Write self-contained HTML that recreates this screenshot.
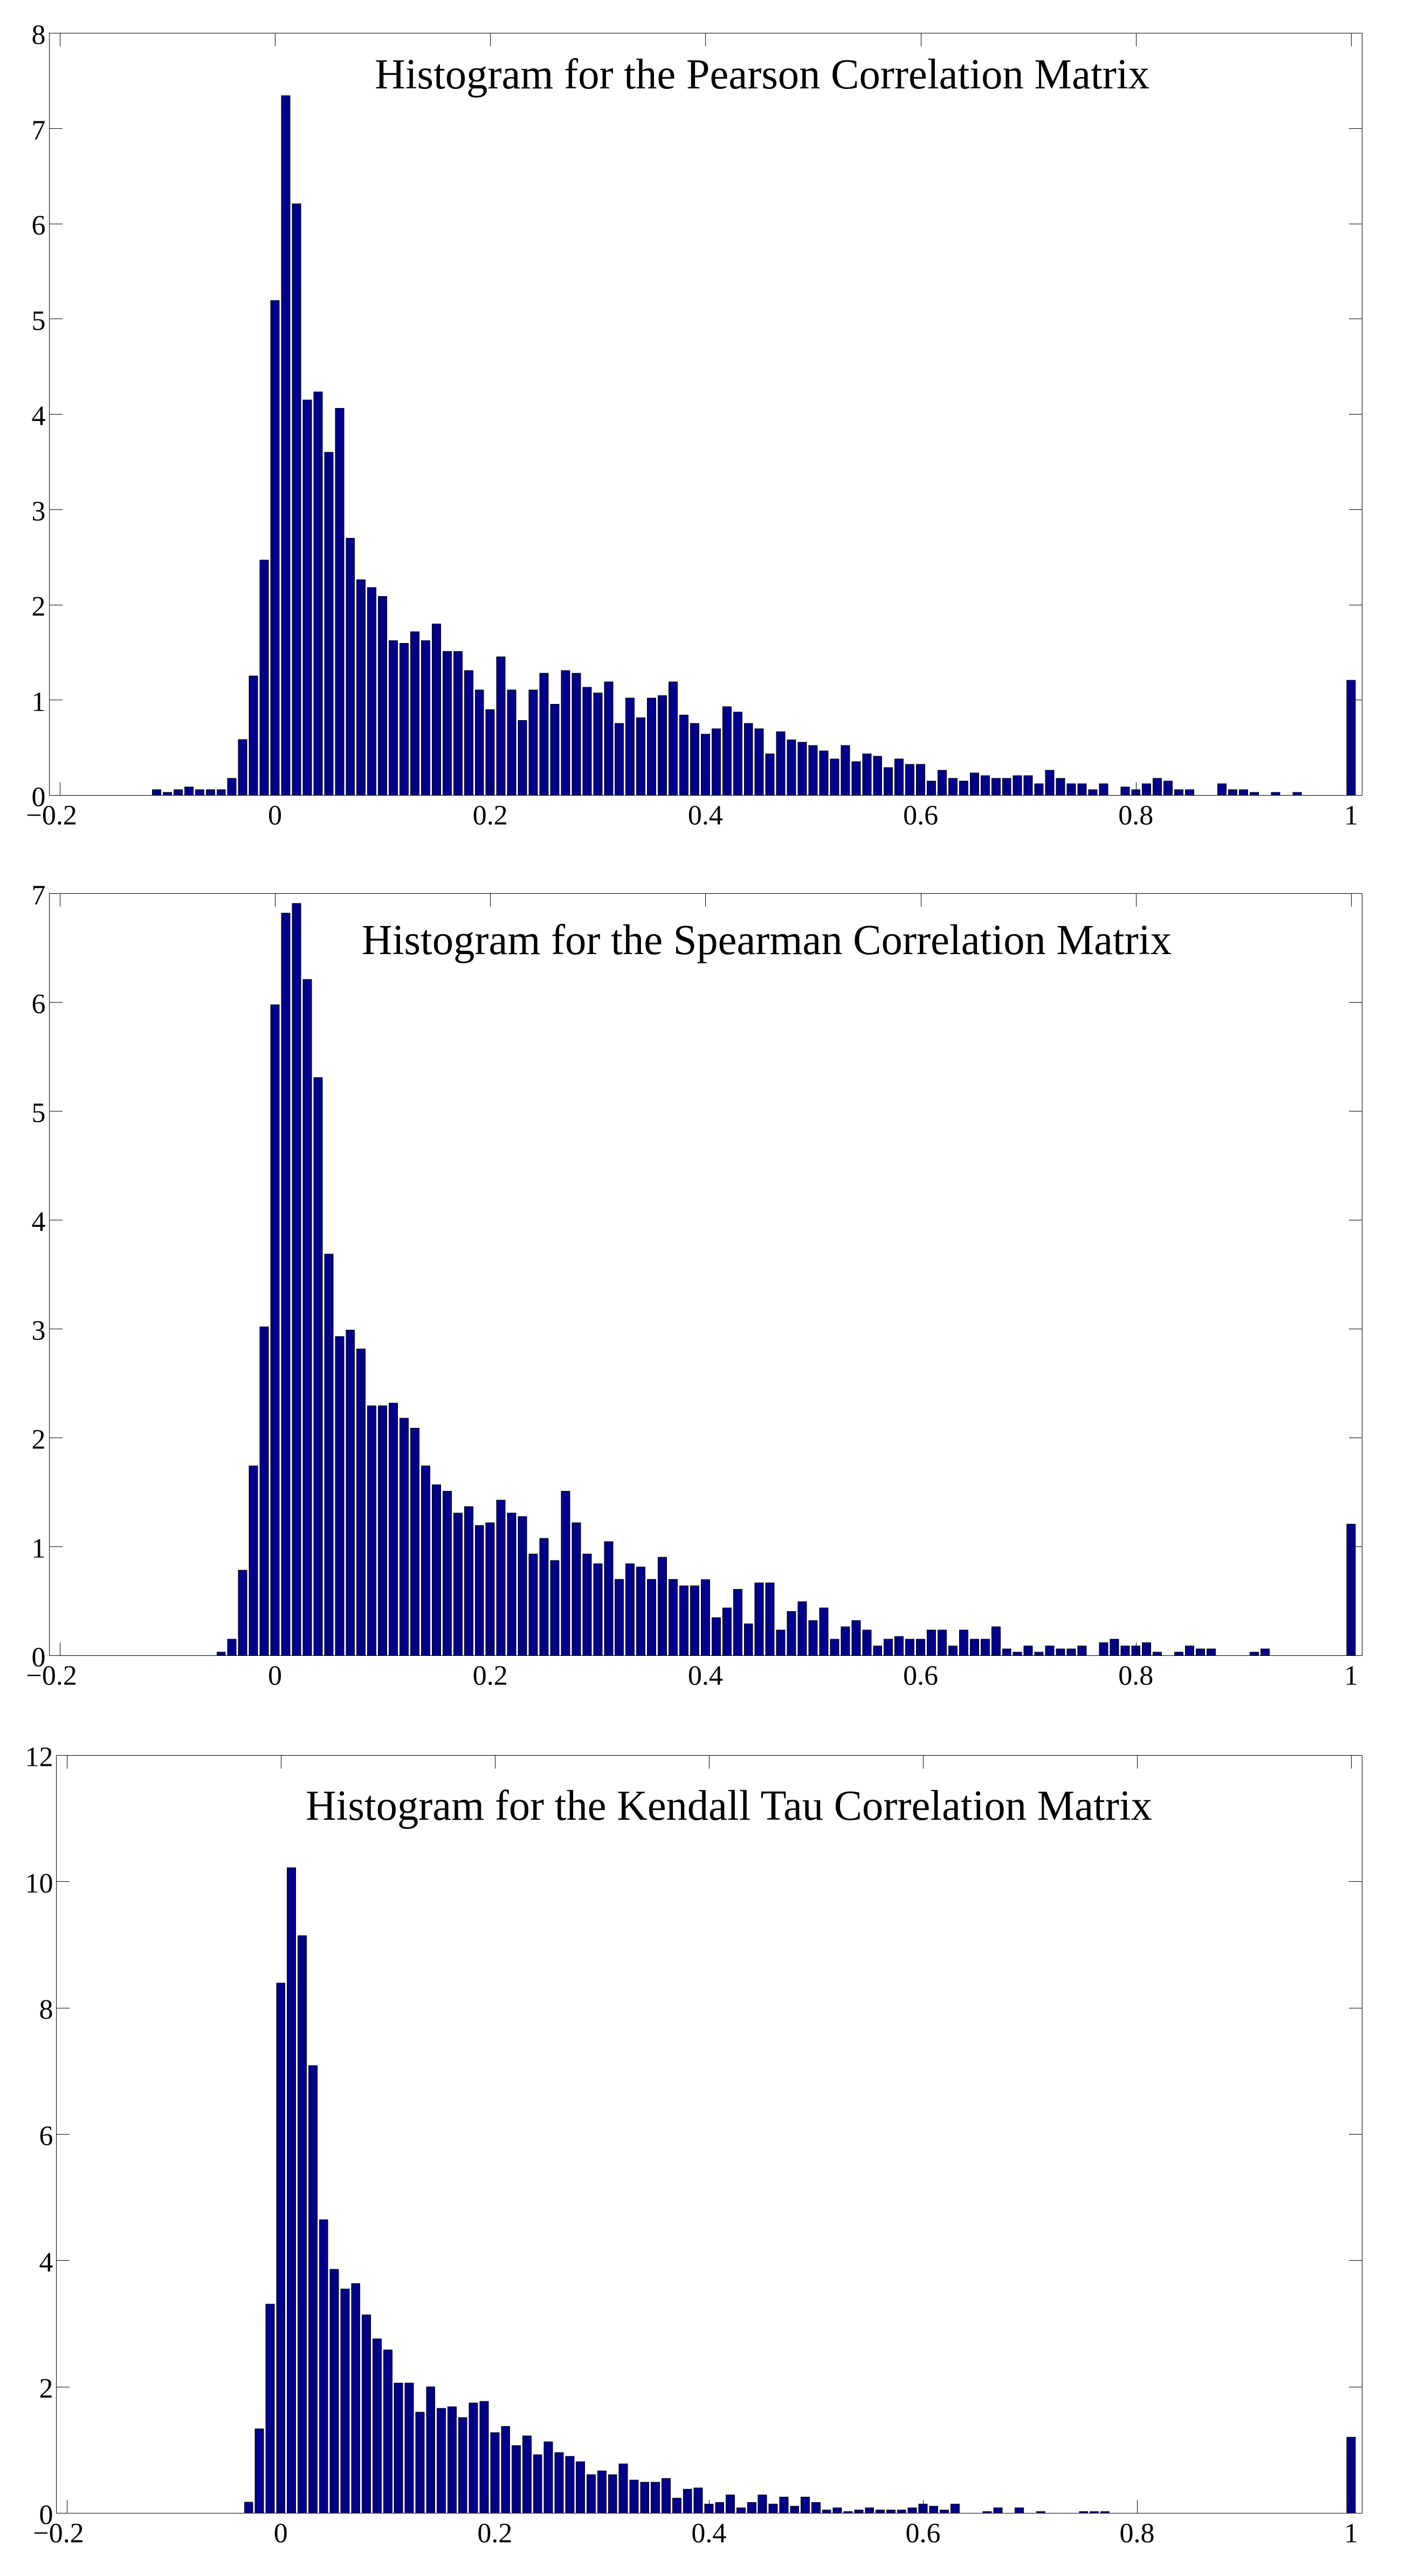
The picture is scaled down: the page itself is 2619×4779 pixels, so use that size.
<!DOCTYPE html>
<html lang="en">
<head>
<meta charset="utf-8">
<title>Histograms of Correlation Matrices</title>
<style>
html,body{margin:0;padding:0;background:#fff;}
body{width:2619px;height:4779px;overflow:hidden;}
svg{display:block;}
text{font-family:"Liberation Serif",serif;fill:#000;}
.tick-label{font-size:52px;}
.title{font-size:79px;}
</style>
</head>
<body>
<svg id="chart" xmlns="http://www.w3.org/2000/svg" width="2619" height="4779" viewBox="0 0 2619 4779"></svg>
<script>
const xTickValues = [-0.2, 0, 0.2, 0.4, 0.6, 0.8, 1];
const xTickLabels = ['−0.2', '0', '0.2', '0.4', '0.6', '0.8', '1'];
const binWidth = 0.01;

const pearsonTitle = 'Histogram for the Pearson Correlation Matrix';
const pearsonFirstBin = -0.11;
const pearsonYTicks = [0, 1, 2, 3, 4, 5, 6, 7, 8];
const pearsonValues = [
  0.058,0.03,0.058,0.087,0.058,0.058,0.058,0.177,0.585,1.253,2.469,
  5.195,7.345,6.21,4.15,4.236,3.6,4.063,2.7,2.264,2.18,
  2.087,1.624,1.596,1.716,1.624,1.8,1.511,1.511,1.31,1.105,
  0.9,1.455,1.105,0.787,1.105,1.281,0.956,1.31,1.281,1.133,
  1.076,1.19,0.755,1.02,0.815,1.02,1.048,1.19,0.843,0.755,
  0.641,0.698,0.93,0.873,0.754,0.698,0.437,0.669,0.584,0.556,
  0.522,0.466,0.381,0.522,0.353,0.437,0.409,0.29,0.381,0.324,
  0.324,0.149,0.262,0.177,0.149,0.234,0.206,0.177,0.177,0.206,
  0.206,0.121,0.262,0.177,0.121,0.121,0.058,0.121,0,0.087,
  0.058,0.121,0.177,0.149,0.058,0.058,0,0,0.121,0.058,
  0.058,0.03,0,0.03,0,0.03,0,0,0,0,1.207
];

const spearmanTitle = 'Histogram for the Spearman Correlation Matrix';
const spearmanFirstBin = -0.05;
const spearmanYTicks = [0, 1, 2, 3, 4, 5, 6, 7];
const spearmanValues = [
  0.031,0.15,0.784,1.743,3.02,
  5.977,6.82,6.908,6.21,5.31,3.688,2.93,2.99,2.817,2.294,
  2.294,2.32,2.18,2.09,1.743,1.57,1.51,1.309,1.369,1.195,
  1.22,1.428,1.309,1.278,0.934,1.076,0.875,1.51,1.22,0.934,
  0.843,1.048,0.7,0.843,0.815,0.7,0.903,0.7,0.642,0.642,
  0.699,0.348,0.437,0.61,0.293,0.669,0.669,0.234,0.407,0.496,
  0.323,0.437,0.15,0.264,0.323,0.234,0.09,0.15,0.175,0.15,
  0.15,0.234,0.234,0.09,0.234,0.15,0.15,0.264,0.061,0.031,
  0.09,0.031,0.09,0.061,0.061,0.09,0,0.12,0.15,0.09,
  0.09,0.12,0.031,0,0.031,0.09,0.061,0.061,0,0,
  0,0.031,0.061,0,0,0,0,0,0,0,1.208
];

const kendallTitle = 'Histogram for the Kendall Tau Correlation Matrix';
const kendallFirstBin = -0.03;
const kendallYTicks = [0, 2, 4, 6, 8, 10, 12];
const kendallValues = [
  0.174,1.335,3.31,
  8.395,10.22,9.145,7.09,4.647,3.863,3.55,3.634,3.139,2.762,
  2.584,2.063,2.063,1.6,2,1.66,1.686,1.516,1.745,1.77,
  1.275,1.372,1.072,1.224,0.928,1.131,0.961,0.902,0.817,0.61,
  0.669,0.61,0.78,0.525,0.492,0.492,0.551,0.237,0.381,0.401,
  0.145,0.171,0.29,0.085,0.171,0.29,0.145,0.256,0.111,0.256,
  0.171,0.051,0.085,0.026,0.051,0.085,0.051,0.051,0.051,0.085,
  0.145,0.111,0.051,0.145,0,0,0.026,0.085,0,0.085,
  0,0.026,0,0,0,0.026,0.026,0.026,0,0,
  0,0,0,0,0,0,0,0,0,0,
  0,0,0,0,0,0,0,0,0,0,
  1.204
];

const NS = 'http://www.w3.org/2000/svg';
const svg = document.getElementById('chart');

function make(tag, attrs, parent) {
  const node = document.createElementNS(NS, tag);
  for (const key in attrs) node.setAttribute(key, attrs[key]);
  parent.appendChild(node);
  return node;
}

function drawPanel(opts) {
  const group = make('g', {}, svg);
  
  

  const yMax = opts.yTicks[opts.yTicks.length - 1];
  const xMin = -0.2097, xMax = 1.0103;
  const xScale = v => opts.left + (v - xMin) / (xMax - xMin) * (opts.right - opts.left);
  const yScale = v => opts.bottom - v / yMax * (opts.bottom - opts.top);
  const tickLen = 24.5;

  // bars
  const step = xScale(binWidth) - xScale(0);
  opts.values.forEach((value, i) => {
    const center = xScale(opts.firstBin + i * binWidth);
    const w = step * 0.8;
    const bar = make('rect', {
      x: center - w / 2, y: yScale(value), width: w, height: Math.max(0, opts.bottom - yScale(value)),
      fill: '#00008b', stroke: '#000', 'stroke-width': 1, 'shape-rendering': 'crispEdges'
    }, group);
    
    
  });

  // axes frame
  const frame = make('rect', {
    x: opts.left, y: opts.top, width: opts.right - opts.left, height: opts.bottom - opts.top,
    fill: 'none', stroke: '#000', 'stroke-width': 1, 'shape-rendering': 'crispEdges'
  }, group);
  
  

  // x ticks
  xTickValues.forEach((v, i) => {
    const px = Math.round(xScale(v)) + 0.5;
    const d = 'M' + px + ' ' + opts.bottom + 'V' + (opts.bottom - tickLen) +
              'M' + px + ' ' + opts.top + 'V' + (opts.top + tickLen);
    const tick = make('path', { d: d, stroke: '#000', 'stroke-width': 1, fill: 'none', 'shape-rendering': 'crispEdges' }, group);
    
    

    const negative = v < 0;
    const label = make('text', {
      class: 'tick-label',
      x: negative ? xScale(v) + 32 : xScale(v),
      y: opts.bottom + 54,
      'text-anchor': negative ? 'end' : 'middle'
    }, group);
    label.textContent = xTickLabels[i];
    
    
  });

  // y ticks
  opts.yTicks.forEach(v => {
    const py = Math.round(yScale(v) - 0.5) + 0.5;
    const d = 'M' + opts.left + ' ' + py + 'H' + (opts.left + tickLen) +
              'M' + opts.right + ' ' + py + 'H' + (opts.right - tickLen);
    const tick = make('path', { d: d, stroke: '#000', 'stroke-width': 1, fill: 'none', 'shape-rendering': 'crispEdges' }, group);
    
    

    const label = make('text', {
      class: 'tick-label',
      x: opts.left - opts.labelGap,
      y: yScale(v) + 20,
      'text-anchor': 'end'
    }, group);
    label.textContent = String(v);
    
    
  });

  // title
  const title = make('text', {
    class: 'title', x: opts.titleX, y: opts.titleY,
    textLength: opts.titleLen, lengthAdjust: 'spacingAndGlyphs'
  }, group);
  title.textContent = opts.title;
  
  
}

drawPanel({
  name: 'pearson', title: pearsonTitle, values: pearsonValues, firstBin: pearsonFirstBin, yTicks: pearsonYTicks,
  left: 91.5, right: 2526.5, top: 61.5, bottom: 1475.5, labelGap: 7,
  titleX: 695, titleY: 164, titleLen: 1437
});
drawPanel({
  name: 'spearman', title: spearmanTitle, values: spearmanValues, firstBin: spearmanFirstBin, yTicks: spearmanYTicks,
  left: 91.5, right: 2526.5, top: 1657.5, bottom: 3071.5, labelGap: 7,
  titleX: 671, titleY: 1770, titleLen: 1502
});
drawPanel({
  name: 'kendall', title: kendallTitle, values: kendallValues, firstBin: kendallFirstBin, yTicks: kendallYTicks,
  left: 104.5, right: 2526.5, top: 3256.5, bottom: 4662.5, labelGap: 6,
  titleX: 567, titleY: 3376, titleLen: 1570
});
</script>
</body>
</html>
